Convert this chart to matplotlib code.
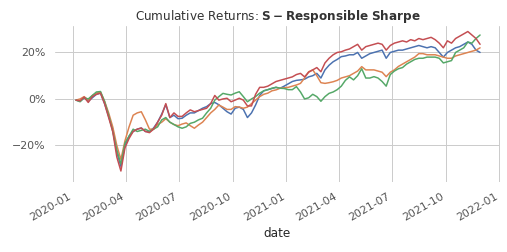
import matplotlib
matplotlib.use('Agg')
import matplotlib.pyplot as plt
import matplotlib.dates as mdates
from matplotlib.ticker import PercentFormatter, MultipleLocator
import seaborn as sns
import pandas as pd

# weekly (Monday) cumulative returns, in percent
dates = pd.date_range('2020-01-06', '2021-11-29', freq='W-MON')

blue = [-0.5, -1, 0.5, -1, 0.5, 2, 2.5, -2, -7.5, -13,
        -23, -29, -20, -16, -14, -13, -12.5, -14, -14, -12.5,
        -10, -6.5, -2.5, -8, -7, -8.5, -8.3, -7, -6, -6,
        -5, -4, -3.3, -2, -1.5, -2.5, -4, -5.5, -6.5, -4,
        -3.5, -4.5, -8, -6, -2.6, 1.5, 3.5, 4, 4.5, 5,
        4.6, 5.5, 6.5, 7.5, 8, 8.2, 8.5, 9.5, 10, 11,
        9, 12.5, 14.5, 16, 17, 18.2, 18.5, 19, 19, 20,
        17.5, 18.5, 19.5, 20, 20.5, 21, 17.5, 20, 20.5, 21,
        21, 21.5, 22, 22.5, 23, 22.5, 22, 22.5, 22, 20,
        18, 20, 21, 22, 22.5, 23.5, 24.5, 23.5, 21, 20]

orange = [-0.5, 0, 1, -0.5, 1.5, 2.5, 3, -1, -6, -12,
          -20, -26, -18, -12, -7, -6, -5.5, -9, -13, -13,
          -11, -10, -8.5, -10, -11, -11.5, -10.8, -10.3, -11.5, -12.6,
          -11.2, -10, -8, -6, -4.5, -2.6, -3.5, -4.5, -4.5, -3.3,
          -3.5, -4, -3.5, -2, -0.5, 1, 2, 2.5, 3.5, 3.9,
          4.6, 4.8, 5, 5.5, 6, 6.7, 9, 11.7, 12.5, 10,
          7, 6.7, 7, 7.4, 8, 9, 9.5, 10, 11, 12,
          13.9, 12.5, 12.5, 12.5, 12, 11.5, 9.6, 11.5, 12.5, 14,
          15, 16, 17, 18, 19.5, 19.5, 19, 19, 19, 18.5,
          18, 17.5, 17.5, 18.5, 19, 19.5, 20, 20.5, 21, 22]

green = [-0.5, -1.2, 0.5, 0, 1.5, 3, 3.2, -1, -7, -14,
         -22, -28, -19, -16, -13, -14, -13.5, -13, -14, -13,
         -12, -9, -8, -10, -11, -12, -12.6, -12, -10.5, -10,
         -9, -8.3, -6, -4, -0.5, 1, 2.4, 2, 1.7, 2.5,
         3.1, 1, -1.2, 0, 1, 2.5, 3.5, 4, 4.6, 5,
         4.6, 4.5, 4, 4, 5.3, 3, 0, 0.5, 2, 1,
         -1, 1, 2.4, 3, 4, 5.5, 8, 9.5, 8.2, 10,
         13, 9, 9, 9.6, 9, 7.5, 5.5, 10.5, 12, 13,
         13.5, 15, 16, 17, 17.5, 17.5, 18, 18, 18, 17.5,
         15.5, 16, 16.5, 20, 21, 22, 24.5, 24, 26, 27.5]

red = [-0.5, -0.8, 0.8, -1.5, 1, 2, 2.5, -2, -8, -14,
       -25, -31, -21, -17, -14, -13, -12.5, -14, -14.5, -13,
       -10, -7, -2, -8, -6, -7.5, -7.5, -6, -4.7, -5.5,
       -5, -4.5, -4, -2, 1.5, -0.5, 0, 0.3, -1.2, -0.5,
       0.3, -0.5, -3, -3, 2, 5, 5, 5.5, 6.5, 7.5,
       8, 8.5, 9, 9.5, 10.5, 11, 9.5, 11.5, 12.5, 13.5,
       11.7, 15.5, 17.5, 19, 20, 20.3, 21, 21.5, 22.5, 23.5,
       21, 22.5, 23, 23.5, 24, 23.5, 21, 23, 24, 24.5,
       25, 24.5, 25.5, 25, 26, 25.5, 26, 26.5, 25.5, 24,
       22, 25, 24, 26, 27, 28, 29, 27.5, 26, 23.5]

sns.set_theme(style='whitegrid')
colors = sns.color_palette('deep')

fig, ax = plt.subplots(figsize=(507 / 72, 252 / 72), dpi=72)
fig.subplots_adjust(left=0.1085, right=0.986, top=0.897, bottom=0.278)

for vals, c in zip([blue, orange, green, red], colors[:4]):
    ax.plot(dates, [v / 100 for v in vals], color=c, linewidth=1.5)

ax.set_xlim(pd.Timestamp('2019-12-01'), pd.Timestamp('2022-01-02'))
ax.set_ylim(-0.357, 0.314)
ax.yaxis.set_major_locator(MultipleLocator(0.2))
ax.yaxis.set_major_formatter(PercentFormatter(1.0, decimals=0))
ax.xaxis.set_major_locator(mdates.MonthLocator(bymonth=[1, 4, 7, 10]))
ax.xaxis.set_major_formatter(mdates.DateFormatter('%Y-%m'))
plt.setp(ax.get_xticklabels(), rotation=30, ha='right')
ax.tick_params(labelcolor='#555555')

for s in ax.spines.values():
    s.set_visible(False)

ax.set_xlabel('date', color='#262626')
ax.set_title('Cumulative Returns: $\\bf{S-Responsible\\ Sharpe}$', color='#333333')

fig.savefig('out.png', dpi=72)
